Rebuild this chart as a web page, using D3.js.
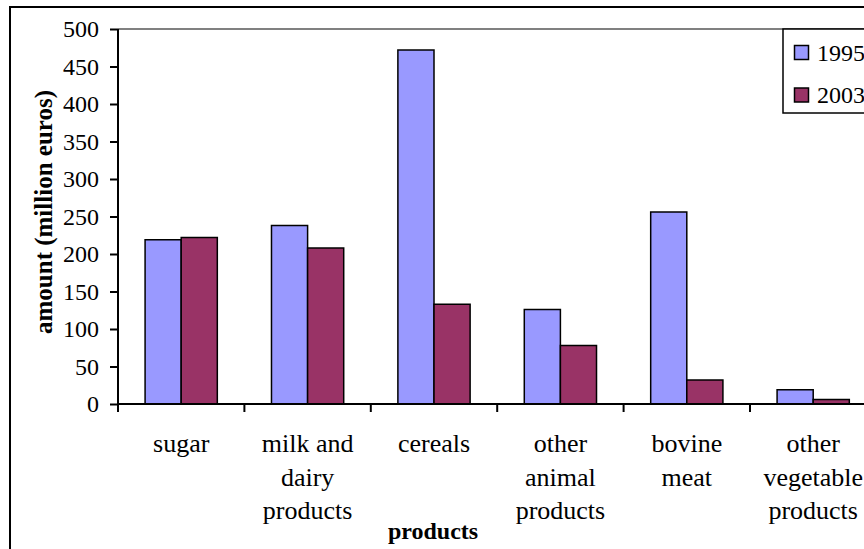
<!DOCTYPE html>
<html><head><meta charset="utf-8">
<script src="https://cdn.jsdelivr.net/npm/d3@7"></script>
<style>body{margin:0;background:#fff}svg{display:block}</style>
</head><body>
<script>
const categories = ["sugar","milk and dairy products","cereals","other animal products","bovine meat","other vegetable products"];
const categoryLines = [["sugar"],["milk and","dairy","products"],["cereals"],["other","animal","products"],["bovine","meat"],["other","vegetable","products"]];
const seriesNames = ["1995","2003"];
const values1995 = [219,238,472,126,256,19];
const values2003 = [222,208,133,78,32,6];
const yTicks = [0,50,100,150,200,250,300,350,400,450,500];
const colors = ["#9999FF","#993366"];

(function(){
const FONT="Liberation Serif";
const W=864,H=549;
const svg=d3.select("body").append("svg").attr("width",W).attr("height",H).attr("font-family",FONT);
// outer chart border
svg.append("rect").attr("x",10).attr("y",7).attr("width",900).attr("height",600)
  .attr("fill","#fff").attr("stroke","#000").attr("stroke-width",2);

const pLeft=118, pTop=29, pBottom=404, bandW=126.4;
const x=d3.scaleBand().domain(categories).range([pLeft,pLeft+bandW*categories.length]).paddingInner(0).paddingOuter(0);
const y=d3.scaleLinear().domain([0,500]).range([pBottom,pTop]);
const barW=x.bandwidth()/3.5;

// plot area top border
svg.append("line").attr("x1",pLeft).attr("x2",W).attr("y1",pTop).attr("y2",pTop).attr("stroke","#808080").attr("stroke-width",2);

const data=[values1995,values2003];
data.forEach((vals,si)=>{
  svg.append("g").selectAll("rect").data(vals).join("rect")
    .attr("x",(d,i)=>x(categories[i])+barW*0.75+si*barW)
    .attr("y",d=>y(d))
    .attr("width",barW)
    .attr("height",d=>pBottom-y(d))
    .attr("fill",colors[si]).attr("stroke","#000").attr("stroke-width",1.5);
});

// y axis
const ya=svg.append("g").attr("transform",`translate(${pLeft},0)`)
  .call(d3.axisLeft(y).tickValues(yTicks).tickSize(8).tickPadding(11));
ya.attr("font-family",FONT).attr("font-size",24);
ya.select(".domain").attr("stroke","#000").attr("stroke-width",2).attr("d",`M0,${pTop}V${pBottom}`);
ya.selectAll(".tick line").attr("stroke","#000").attr("stroke-width",2);
ya.selectAll(".tick text").attr("font-size",24).attr("fill","#000").attr("font-family",FONT);

// x axis
svg.append("line").attr("x1",pLeft).attr("x2",W).attr("y1",pBottom).attr("y2",pBottom).attr("stroke","#000").attr("stroke-width",2);
svg.append("g").selectAll("line").data(d3.range(categories.length+1)).join("line")
  .attr("x1",i=>pLeft+i*x.bandwidth()).attr("x2",i=>pLeft+i*x.bandwidth())
  .attr("y1",pBottom).attr("y2",pBottom+8).attr("stroke","#000").attr("stroke-width",2);

const cl=svg.append("g");
categories.forEach((c,i)=>{
  const cx=x(c)+x.bandwidth()/2;
  const t=cl.append("text").attr("text-anchor","middle").attr("font-size",26).attr("font-family",FONT).attr("fill","#000")
    .attr("x",cx).attr("y",452);
  categoryLines[i].forEach((ln,j)=>t.append("tspan").attr("x",cx).attr("y",452+j*33.5).text(ln));
});

// axis titles
svg.append("text").attr("x",433).attr("y",539).attr("text-anchor","middle").attr("font-size",24).attr("font-family",FONT).attr("font-weight","bold").text("products");
svg.append("text").attr("transform","translate(52,212) rotate(-90)").attr("text-anchor","middle").attr("font-size",25).attr("font-family",FONT).attr("font-weight","bold").text("amount (million euros)");

// legend
const lg=svg.append("g");
lg.append("rect").attr("x",783).attr("y",29).attr("width",120).attr("height",84).attr("fill","#fff").attr("stroke","#000").attr("stroke-width",1.5);
seriesNames.forEach((s,i)=>{
  lg.append("rect").attr("x",794.5).attr("y",45.5+i*42.5).attr("width",14).attr("height",14).attr("fill",colors[i]).attr("stroke","#000").attr("stroke-width",1.5);
  lg.append("text").attr("x",817).attr("y",52.5+i*42.5).attr("dy","0.35em").attr("font-size",24).attr("font-family",FONT).text(s);
});
})();
</script>
</body></html>
